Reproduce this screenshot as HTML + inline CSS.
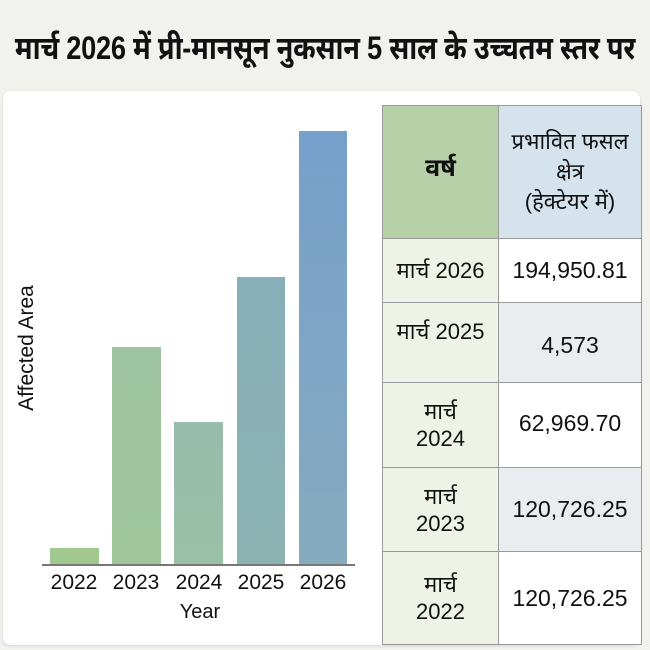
<!DOCTYPE html>
<html><head><meta charset="utf-8">
<style>
html,body{margin:0;padding:0;}
body{width:650px;height:650px;background:#f1f1ee;position:relative;overflow:hidden;font-family:"Liberation Sans","Noto Sans Devanagari","Lohit Devanagari","FreeSans",sans-serif;color:#111;}
.title{position:absolute;left:325px;top:26px;white-space:nowrap;font-size:32px;font-weight:bold;line-height:44px;transform:translateX(-50%) scaleX(0.85);transform-origin:center;letter-spacing:-0.3px;}
.card{position:absolute;left:3px;top:91px;width:637px;height:554px;background:#fff;border-radius:8px;box-shadow:0 1px 3px rgba(0,0,0,0.12);}
.bar{position:absolute;}
.tick{position:absolute;top:571px;width:62px;text-align:center;font-size:21px;color:#111;}
.axis{position:absolute;left:42px;top:564px;width:313px;height:1.5px;background:#777;}
.ylab{position:absolute;left:27px;top:348px;transform:translate(-50%,-50%) rotate(-90deg);font-size:21px;white-space:nowrap;}
.xlab{position:absolute;left:150px;top:601px;width:100px;text-align:center;font-size:20px;}
table{position:absolute;left:382px;top:105px;border-collapse:collapse;}
td{border:1px solid #9a9a9a;text-align:center;padding:0;font-size:22px;line-height:27px;}
td.c1{width:115px;background:#eef2e7;}
td.c2{width:142px;font-size:23px;}
</style></head><body>
<div class="title">मार्च 2026 में प्री-मानसून नुकसान 5 साल के उच्चतम स्तर पर</div>
<div class="card"></div>
<div class="bar" style="left:50px;top:548px;width:49px;height:16px;background:#a0c88f;"></div>
<div class="bar" style="left:112px;top:347px;width:49px;height:217px;background:linear-gradient(#9ec39f,#a1c69c);"></div>
<div class="bar" style="left:174px;top:422px;width:49px;height:142px;background:linear-gradient(#97bcac,#9ac0a8);"></div>
<div class="bar" style="left:237px;top:277px;width:48px;height:287px;background:linear-gradient(#88aeb9,#8cb3b2);"></div>
<div class="bar" style="left:299px;top:131px;width:48px;height:433px;background:linear-gradient(#76a0cc,#86abbe);"></div>
<div class="axis"></div>
<div class="tick" style="left:43px;">2022</div>
<div class="tick" style="left:105px;">2023</div>
<div class="tick" style="left:168px;">2024</div>
<div class="tick" style="left:230px;">2025</div>
<div class="tick" style="left:292px;">2026</div>
<div class="xlab">Year</div>
<div class="ylab">Affected Area</div>
<table>
<tr style="height:133px;"><td class="c1" style="background:#b6d1a7;font-size:25px;font-weight:bold;padding-bottom:8px;">वर्ष</td><td class="c2" style="background:#d5e3ec;line-height:30px;font-size:22px;">प्रभावित फसल<br>क्षेत्र<br>(हेक्टेयर में)</td></tr>
<tr style="height:64px;"><td class="c1">मार्च 2026</td><td class="c2" style="background:#fff;">194,950.81</td></tr>
<tr style="height:80px;"><td class="c1" style="padding-bottom:22px;">मार्च 2025</td><td class="c2" style="background:#ebecef;padding-top:6px;">4,573</td></tr>
<tr style="height:85px;"><td class="c1">मार्च<br>2024</td><td class="c2" style="background:#fff;padding-bottom:3px;">62,969.70</td></tr>
<tr style="height:84px;"><td class="c1">मार्च<br>2023</td><td class="c2" style="background:#ebecef;">120,726.25</td></tr>
<tr style="height:93px;"><td class="c1">मार्च<br>2022</td><td class="c2" style="background:#fff;">120,726.25</td></tr>
</table>
</body></html>
